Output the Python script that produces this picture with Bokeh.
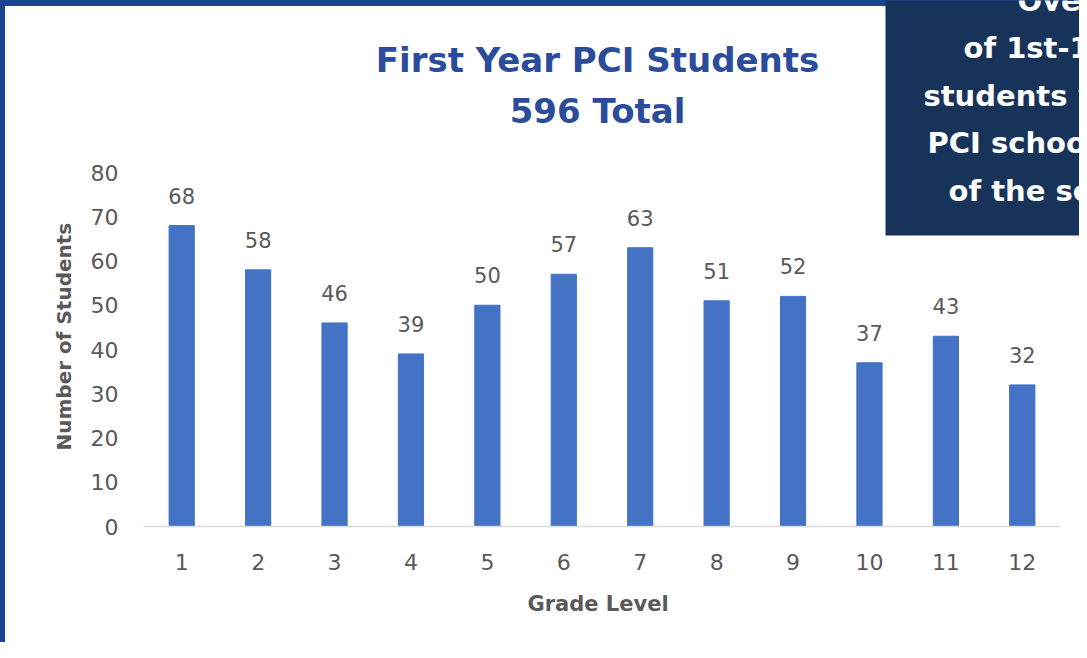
from bokeh.plotting import figure
from bokeh.models import ColumnDataSource, BoxAnnotation, Label, Range1d, FixedTicker, Title
from bokeh.core.properties import value
from bokeh.embed import file_html
from bokeh.resources import INLINE

# ---- data ----
grades = [1, 2, 3, 4, 5, 6, 7, 8, 9, 10, 11, 12]
students = [68, 58, 46, 39, 50, 57, 63, 51, 52, 37, 43, 32]
y_ticks = [0, 10, 20, 30, 40, 50, 60, 70, 80]
title_line1 = "First Year PCI Students"
title_line2 = "596 Total"
x_label = "Grade Level"
y_label = "Number of Students"
box_lines = ["Over", "of 1st-12", "students w", "PCI schoo", "of the sc"]

# ---- style / layout ----
FONT = "DejaVu Sans"
BAR = "#4472c4"
GRAY = "#595959"
TITLE_C = "#2b4c9b"
NAVY = "#18335a"
EDGE = "#1c4391"

W, H = 1079, 642
FRAME_L = 143      # left of plot area (px)
FRAME_B = 526      # baseline of bars (px)
Y_TOP_PX = 172     # pixel of top tick
CAT_R = 1060       # right end of category band (px)

y_max = y_ticks[-1]
y_end = y_max * FRAME_B / (FRAME_B - Y_TOP_PX)
band = (CAT_R - FRAME_L) / len(grades)
x_start = grades[0] - 0.5
x_end = x_start + (W - FRAME_L) / band

src = ColumnDataSource(dict(grade=grades, students=students,
                            label=[str(v) for v in students]))

p = figure(width=W, height=H,
           x_range=Range1d(x_start, x_end),
           y_range=Range1d(0, y_end),
           output_backend="svg", toolbar_location=None,
           min_border_left=FRAME_L, min_border_right=0,
           min_border_top=0, min_border_bottom=H - FRAME_B)

p.background_fill_color = None
p.border_fill_color = None
p.styles = {"box-shadow": "inset 5px 6px 0 0 " + EDGE, "background-color": "white"}
p.outline_line_color = None
p.xgrid.grid_line_color = None
p.ygrid.grid_line_color = None

# bars + value labels
p.vbar(x="grade", top="students", width=0.33, color=BAR, source=src)
p.text(x="grade", y="students", text="label", source=src,
       text_align="center", text_baseline="alphabetic", y_offset=-30,
       text_font=value(FONT), text_font_size="21px", text_color=GRAY)

# axes
xa = p.xaxis[0]
xa.ticker = FixedTicker(ticks=grades)
xa.bounds = (x_start, grades[-1] + 0.5)
xa.axis_line_color = "#d9d9d9"
xa.axis_line_width = 1.5
xa.major_tick_line_color = None
xa.minor_tick_line_color = None
xa.major_label_text_font = FONT
xa.major_label_text_font_size = "22px"
xa.major_label_text_color = GRAY
xa.major_label_standoff = 21

ya = p.yaxis[0]
ya.ticker = FixedTicker(ticks=y_ticks)
ya.axis_line_color = None
ya.major_tick_line_color = None
ya.minor_tick_line_color = None
ya.major_label_text_font = FONT
ya.major_label_text_font_size = "22px"
ya.major_label_text_color = GRAY
ya.major_label_standoff = 19

# axis titles (side titles, shifted so they centre on the bar area)
p.add_layout(Title(text=x_label, align="left", offset=384, standoff=34,
                   text_font=FONT, text_font_size="21px", text_font_style="bold",
                   text_color=GRAY), "below")
p.add_layout(Title(text=y_label, align="left", offset=76, standoff=23,
                   text_font=FONT, text_font_size="20px", text_font_style="bold",
                   text_color=GRAY), "left")

# title (two lines)
for txt, ty in zip([title_line1, title_line2], [59, 110]):
    p.add_layout(Label(x=597, y=ty, x_units="canvas", y_units="canvas", text=txt,
                       text_align="center", text_baseline="middle",
                       text_font=FONT, text_font_size="34px", text_font_style="bold",
                       text_color=TITLE_C))

# navy info box (top right)
box = BoxAnnotation(left=885, right=W, top=0, bottom=235,
                    left_units="canvas", right_units="canvas",
                    top_units="canvas", bottom_units="canvas",
                    fill_color=NAVY, fill_alpha=1.0, line_color=None)
p.add_layout(box)
box_x = [1017, 963, 923, 927, 948]
box_y = [0, 47, 95, 142, 190]
for txt, bx, by in zip(box_lines, box_x, box_y):
    p.add_layout(Label(x=bx, y=by, x_units="canvas", y_units="canvas", text=txt,
                       text_font=FONT, text_font_size="29px", text_font_style="bold",
                       text_color="white", text_baseline="middle"))

open("out.html", "w").write(file_html(p, INLINE))
